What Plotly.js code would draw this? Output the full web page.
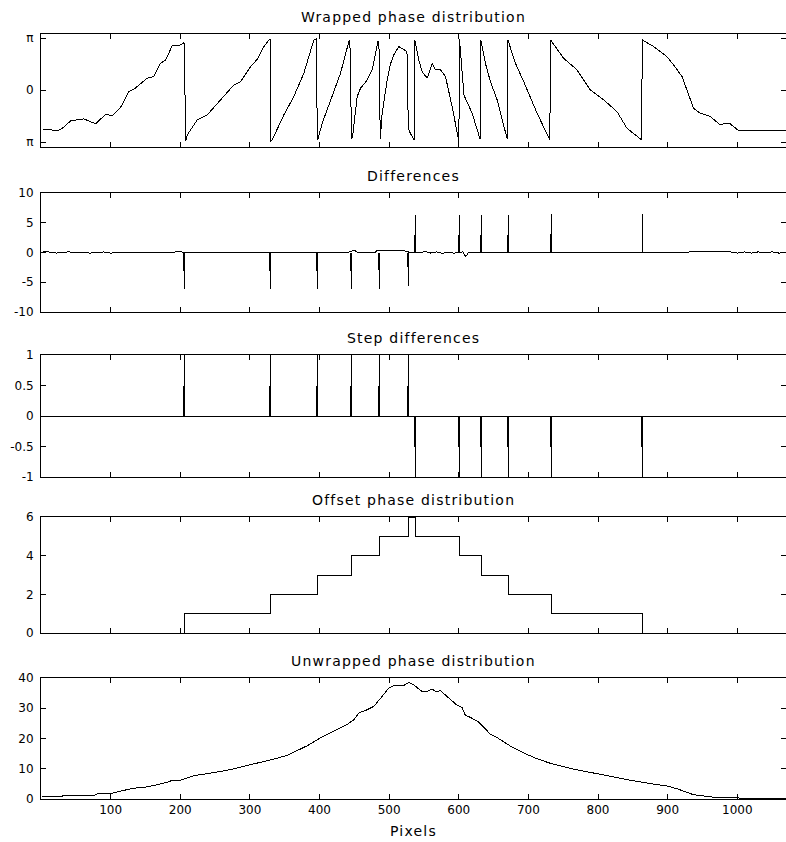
<!DOCTYPE html>
<html><head><meta charset="utf-8">
<script src="https://cdn.plot.ly/plotly-3.0.1.min.js"></script>
<style>html,body{margin:0;padding:0;background:#fff}
#chart path{shape-rendering:crispEdges}</style>
</head><body><div id="chart" style="width:786px;height:842px"></div>
<script>
// ---- Panel titles ----
const titles = ["Wrapped phase distribution", "Differences", "Step differences",
                "Offset phase distribution", "Unwrapped phase distribution"];
const xTitle = "Pixels";

// ---- X axis ----
const xTickVals = [100, 200, 300, 400, 500, 600, 700, 800, 900, 1000];
const xTickText = ["100", "200", "300", "400", "500", "600", "700", "800", "900", "1000"];

// ---- Wrapped phase (rad) ----
const wrapX = [3, 12, 23.5, 30.7, 42.6, 61.7, 78.5, 92.9, 102.5, 114.4, 126.3, 133.5, 152.6, 162.1, 171.7, 178.9, 188.4, 200.4, 205.5,
  206.7, 208.0, 210.1, 224.5, 238.8, 258, 277, 286.6, 301, 310.6, 320.1, 329.0,
  330.0, 332.1, 348.8, 363.1, 377.5, 391.8, 395.6,
  396.8, 397.8, 403.9, 415.8, 430.2, 442.1, 443.6,
  444.8, 446.0, 447.5, 454.1, 458.9, 468.5, 475.7, 483.8, 485.3,
  486.3, 487.3, 490, 497.2, 502, 506.7, 513.8, 523.5, 525.6,
  526.6, 527.6, 530.5, 535.8,
  536.8, 542.6, 547.4, 554.6, 561.8, 566.5, 573.7, 580.9, 590.5, 597.6, 600.2,
  601.0, 603.0, 607.5, 619.2, 630.6,
  631.6, 638.3, 645.5, 655.1, 669.6,
  670.6, 681.4, 693.3, 712.5, 730.8,
  731.8, 750.7, 769.9, 789, 808.1, 827.2, 841.6, 862.6,
  863.6, 879.9, 899, 908.6, 920.6, 927.8, 937.3, 946.9, 961.3, 975.6, 982, 989.9, 1001.9, 1028.3, 1070];
const wrapY = [-2.40, -2.38, -2.44, -2.30, -1.85, -1.73, -2.03, -1.45, -1.55, -1.03, -0.08, 0.06, 0.73, 0.83, 1.63, 1.83, 2.68, 2.74, 2.88,
  0.0, -3.06, -2.70, -1.79, -1.49, -0.58, 0.32, 0.52, 1.43, 1.87, 2.64, 3.12,
  -3.10, -3.00, -1.49, -0.38, 1.03, 3.04, 3.10,
  -3.02, -2.95, -1.99, -0.58, 1.03, 2.94, 3.02,
  0.2, -2.95, -2.80, -0.38, 0.12, 0.62, 1.23, 2.94, 2.98,
  0.2, -2.96, -1.39, 0.62, 1.60, 2.13, 2.64, 2.40, 2.35,
  0.0, -2.30, -2.60, -3.02,
  3.04, 1.83, 1.13, 0.73, 1.63, 1.23, 1.23, 0.83, -0.99, -2.60, -3.10,
  3.10, 2.00, -0.30, -1.39, -2.95,
  3.04, 1.63, 0.52, -0.58, -2.95,
  3.04, 1.63, 0.52, -1.39, -3.00,
  3.04, 1.93, 1.23, 0.02, -0.58, -1.29, -2.30, -3.00,
  3.04, 2.64, 2.03, 1.53, 0.83, 0.02, -1.09, -1.39, -1.59, -2.10, -2.00, -2.03, -2.44, -2.44, -2.44];

// ---- Jump locations (pixels) shared by differences / step differences ----
const jumpX = [206.7, 329.7, 396.7, 446, 486.6, 527.8, 537.8, 601, 632.1, 671.3, 733, 863.2];

// ---- Differences ----
const diffBaseX = [0, 8, 15, 22, 30, 40, 50, 60, 70, 80, 90, 100, 110, 190, 196, 202, 206, 440, 446, 450, 455, 480, 483, 500, 522, 530,
  545, 552, 560, 568, 576, 585, 593, 600, 606, 610, 614, 620, 980, 990, 1000, 1010, 1020, 1030, 1040, 1050, 1060, 1070];
const diffBaseY = [0.05, 0.15, 0.0, -0.1, 0.05, 0.1, -0.05, 0.05, -0.1, 0.0, 0.1, -0.1, 0.0, 0.0, 0.2, 0.1, 0.0, 0.0, 0.3, 0.4, 0.0, 0.0, 0.4, 0.4, 0.3, 0.0,
  0.0, 0.15, -0.1, 0.1, -0.15, 0.05, -0.1, 0.0, 0.1, -0.7, 0.0, 0.0, 0.0, 0.1, -0.1, 0.1, -0.1, 0.1, -0.05, 0.1, -0.1, 0.0];
const diffSpikeY = [-6.2, -6.2, -6.2, -6.2, -6.2, -5.6, 6.3, 6.3, 6.3, 6.3, 6.4, 6.4];
const diffThickY = [-3.1, -3.1, -3.1, -3.1, -3.0, -2.5, 3.0, 3.0, 3.0, 3.0, 3.1, 0];

// ---- Step differences ----
const stepBaseX = [0, 1070];
const stepBaseY = [0, 0];
const stepSpikeY = [1, 1, 1, 1, 1, 1, -1, -1, -1, -1, -1, -1];
const stepThickY = [0.5, 0.5, 0.5, 0.5, 0.5, 0.5, -0.5, -0.5, -0.5, -0.5, -0.5, -0.5];

// ---- Offset phase distribution ----
const offsetX = [0, 206.7, 329.7, 396.7, 446, 486.6, 527.8, 537.8, 601, 632.1, 671.3, 733, 863.2, 1070];
const offsetY = [0, 1, 2, 3, 4, 5, 6, 5, 4, 3, 2, 1, 0, 0];

// ---- Unwrapped phase ----
const unwrapX = [1.9, 30.7, 32, 76.1, 80.9, 100, 114.4, 131.2, 152.6, 167, 181.4, 188.6, 200.4, 219.6, 238.7, 257.9, 277, 296.1, 315.3, 334.4,
  353.5, 367.9, 382.3, 401.4, 420.5, 439.6, 449.2, 456.3, 468.3, 477.9, 489.9, 499.4, 506.6, 511.5, 521.1, 528.3, 535.5, 547.4, 554.6,
  561.8, 566.5, 573.7, 583.3, 597.6, 604.9, 609.6, 616.8, 628.8, 645.5, 655.1, 674.2, 693.3, 712.5, 731.6, 760.3, 789, 817.7, 846.4,
  875.1, 899, 913.4, 923, 937.3, 951.7, 970.8, 999.5, 1009, 1070];
const unwrapY = [0.9, 0.9, 1.2, 1.2, 1.65, 1.76, 2.6, 3.5, 4.0, 4.85, 5.5, 6.2, 6.2, 7.7, 8.3, 9.1, 10.0, 11.0, 12.1, 13.2,
  14.4, 16.0, 17.6, 20.2, 22.4, 24.6, 26.2, 28.4, 29.5, 30.6, 33.9, 36.7, 37.5, 37.5, 37.5, 38.6, 37.7, 35.5, 35.5,
  36.4, 35.5, 35.8, 33.8, 31.0, 30.2, 27.6, 27.0, 25.4, 21.4, 20.3, 17.5, 15.2, 13.3, 11.8, 10.1, 8.8, 7.3, 6.2,
  5.1, 4.3, 3.4, 2.5, 1.4, 1.0, 0.45, 0.34, 0.3, 0.3];

// ---- Y tick labels ----
const y1TickVals = [-Math.PI, 0, Math.PI];
const y1TickText = ["π", "0", "π"];
const y2TickVals = [-10, -5, 0, 5, 10];
const y2TickText = ["-10", "-5", "0", "5", "10"];
const y3TickVals = [-1, -0.5, 0, 0.5, 1];
const y3TickText = ["-1", "-0.5", "0", "0.5", "1"];
const y4TickVals = [0, 2, 4, 6];
const y4TickText = ["0", "2", "4", "6"];
const y5TickVals = [0, 10, 20, 30, 40];
const y5TickText = ["0", "10", "20", "30", "40"];

// ---------------------------------------------------------------
const W = 786, H = 842;
function spikeTrace(xs, hs, th, xa, ya) {
  const x = [], y = [];
  for (let i = 0; i < xs.length; i++) {
    if (th[i] !== 0) { x.push(xs[i] - 1.4, xs[i] - 1.4, null); y.push(0, th[i], null); }
    x.push(xs[i], xs[i], null); y.push(0, hs[i], null);
  }
  return lineTrace(x, y, xa, ya);
}
function lineTrace(x, y, xa, ya, shape) {
  return {x: x, y: y, xaxis: xa, yaxis: ya, type: 'scatter', mode: 'lines',
    line: {color: '#000', width: 1, shape: shape || 'linear'}, connectgaps: false,
    hoverinfo: 'skip', showlegend: false};
}
const traces = [
  lineTrace(wrapX, wrapY, 'x', 'y'),
  lineTrace(diffBaseX, diffBaseY, 'x2', 'y2'),
  spikeTrace(jumpX, diffSpikeY, diffThickY, 'x2', 'y2'),
  lineTrace(stepBaseX, stepBaseY, 'x3', 'y3'),
  spikeTrace(jumpX, stepSpikeY, stepThickY, 'x3', 'y3'),
  lineTrace(offsetX, offsetY, 'x4', 'y4', 'hv'),
  lineTrace(unwrapX, unwrapY, 'x5', 'y5')
];

const FONT = 'DejaVu Sans, Arial, sans-serif';
const panelsPx = [[34, 147], [193, 312], [355, 477], [517, 633], [678, 799]];
const yRanges = [[-3.43, 3.40], [-10, 10], [-1, 1], [0, 6], [0, 40]];
const yTV = [y1TickVals, y2TickVals, y3TickVals, y4TickVals, y5TickVals];
const yTT = [y1TickText, y2TickText, y3TickText, y4TickText, y5TickText];
const xDomain = [41 / W, 1];
const layout = {
  width: W, height: H, margin: {l: 0, r: 0, t: 0, b: 0},
  paper_bgcolor: '#fff', plot_bgcolor: '#fff',
  font: {family: FONT, size: 12, color: '#000'},
  annotations: []
};
const axisCommon = {
  showline: true, linecolor: '#000', linewidth: 1, mirror: 'ticks',
  ticks: 'inside', ticklen: 5, tickwidth: 1, tickcolor: '#000',
  showgrid: false, zeroline: false, fixedrange: true,
  tickfont: {family: FONT, size: 12, color: '#000'}
};
for (let i = 0; i < 5; i++) {
  const s = i === 0 ? '' : String(i + 1);
  const top = panelsPx[i][0], bot = panelsPx[i][1];
  layout['xaxis' + s] = Object.assign({}, axisCommon, {
    domain: xDomain, range: [0, 1070], anchor: 'y' + s,
    tickmode: 'array', tickvals: xTickVals, ticktext: xTickText,
    showticklabels: i === 4
  });
  layout['yaxis' + s] = Object.assign({}, axisCommon, {
    domain: [1 - bot / H, 1 - top / H], range: yRanges[i], anchor: 'x' + s,
    tickmode: 'array', tickvals: yTV[i], ticktext: yTT[i], ticklabelstandoff: 4
  });
  layout.annotations.push({
    text: '<span style="letter-spacing:1.2px">' + titles[i] + '</span>',
    xref: 'paper', yref: 'paper', x: (41 / W + 1) / 2, y: 1 - (top - 17) / H,
    xanchor: 'center', yanchor: 'middle', showarrow: false,
    font: {family: FONT, size: 14, color: '#000'}
  });
}
layout.annotations.push({
  text: '<span style="letter-spacing:1.2px">' + xTitle + '</span>',
  xref: 'paper', yref: 'paper', x: (41 / W + 1) / 2, y: 1 - 831 / H,
  xanchor: 'center', yanchor: 'middle', showarrow: false,
  font: {family: FONT, size: 14, color: '#000'}
});
Plotly.newPlot('chart', traces, layout, {staticPlot: true, displayModeBar: false});
</script></body></html>
